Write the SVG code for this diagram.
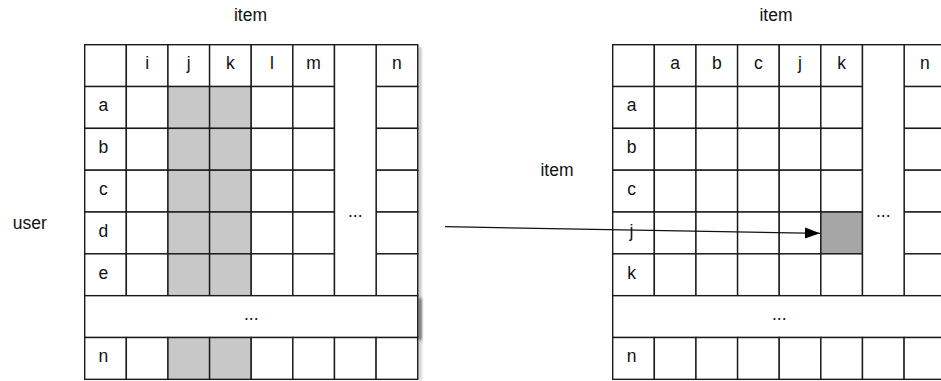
<svg xmlns="http://www.w3.org/2000/svg" width="941" height="381" viewBox="0 0 941 381">
<style>
.c{fill:#fff;stroke:#1a1a1a;stroke-width:1.4}
.s{fill:#c8c8c8;stroke:#1a1a1a;stroke-width:1.4}
.d{fill:#a6a6a6;stroke:#1a1a1a;stroke-width:1.4}
text{font-family:"Liberation Sans",Arial,sans-serif;font-size:17.5px;fill:#111;text-anchor:middle}
.lb{font-size:17.5px}
.conn{stroke:#111;stroke-width:1.3;fill:none}
</style>
<defs>
<marker id="ah" markerUnits="userSpaceOnUse" markerWidth="16" markerHeight="12" refX="15" refY="6" orient="auto">
<path d="M0,0.5 L15,6 L0,11.5 Z" fill="#000"/>
</marker>
<filter id="blur" x="-50%" y="-10%" width="200%" height="120%"><feGaussianBlur stdDeviation="1.2"/></filter>
</defs>
<rect width="941" height="381" fill="#fff"/>

<g id="labels">
<text class="lb" x="250.5" y="21">item</text>
<text class="lb" x="776" y="21">item</text>
<text class="lb" x="557" y="176">item</text>
<text class="lb" x="29.7" y="229.3">user</text>
</g>

<g id="shadow-left" filter="url(#blur)">
<rect x="418" y="47" width="3.5" height="290" fill="#c4c4c4"/>
<rect x="418" y="298" width="4" height="45" fill="#7a7a7a"/>
<rect x="418" y="340" width="3.5" height="40" fill="#d0d0d0"/>
</g>

<g id="matrix-left">
<g id="left-row-header">
<rect class="c" x="84.7" y="44.7" width="41.63" height="41.83"/>
<rect class="c" x="126.33" y="44.7" width="41.63" height="41.83"/>
<rect class="c" x="167.96" y="44.7" width="41.63" height="41.83"/>
<rect class="c" x="209.59" y="44.7" width="41.63" height="41.83"/>
<rect class="c" x="251.22" y="44.7" width="41.63" height="41.83"/>
<rect class="c" x="292.85" y="44.7" width="41.63" height="41.83"/>
<rect class="c" x="376.11" y="44.7" width="41.63" height="41.83"/>
<text x="147.15" y="69.4">i</text>
<text x="188.78" y="69.4">j</text>
<text x="230.4" y="69.4">k</text>
<text x="272.03" y="69.4">l</text>
<text x="313.66" y="69.4">m</text>
<text x="396.9" y="69.4">n</text>
</g>
<g id="left-row-a">
<rect class="c" x="84.7" y="86.53" width="41.63" height="41.83"/>
<rect class="c" x="126.33" y="86.53" width="41.63" height="41.83"/>
<rect class="s" x="167.96" y="86.53" width="41.63" height="41.83"/>
<rect class="s" x="209.59" y="86.53" width="41.63" height="41.83"/>
<rect class="c" x="251.22" y="86.53" width="41.63" height="41.83"/>
<rect class="c" x="292.85" y="86.53" width="41.63" height="41.83"/>
<rect class="c" x="376.11" y="86.53" width="41.63" height="41.83"/>
<text x="103.3" y="111.2">a</text>
</g>
<g id="left-row-b">
<rect class="c" x="84.7" y="128.36" width="41.63" height="41.83"/>
<rect class="c" x="126.33" y="128.36" width="41.63" height="41.83"/>
<rect class="s" x="167.96" y="128.36" width="41.63" height="41.83"/>
<rect class="s" x="209.59" y="128.36" width="41.63" height="41.83"/>
<rect class="c" x="251.22" y="128.36" width="41.63" height="41.83"/>
<rect class="c" x="292.85" y="128.36" width="41.63" height="41.83"/>
<rect class="c" x="376.11" y="128.36" width="41.63" height="41.83"/>
<text x="103.3" y="153.1">b</text>
</g>
<g id="left-row-c">
<rect class="c" x="84.7" y="170.19" width="41.63" height="41.83"/>
<rect class="c" x="126.33" y="170.19" width="41.63" height="41.83"/>
<rect class="s" x="167.96" y="170.19" width="41.63" height="41.83"/>
<rect class="s" x="209.59" y="170.19" width="41.63" height="41.83"/>
<rect class="c" x="251.22" y="170.19" width="41.63" height="41.83"/>
<rect class="c" x="292.85" y="170.19" width="41.63" height="41.83"/>
<rect class="c" x="376.11" y="170.19" width="41.63" height="41.83"/>
<text x="103.3" y="194.9">c</text>
</g>
<g id="left-row-d">
<rect class="c" x="84.7" y="212.02" width="41.63" height="41.83"/>
<rect class="c" x="126.33" y="212.02" width="41.63" height="41.83"/>
<rect class="s" x="167.96" y="212.02" width="41.63" height="41.83"/>
<rect class="s" x="209.59" y="212.02" width="41.63" height="41.83"/>
<rect class="c" x="251.22" y="212.02" width="41.63" height="41.83"/>
<rect class="c" x="292.85" y="212.02" width="41.63" height="41.83"/>
<rect class="c" x="376.11" y="212.02" width="41.63" height="41.83"/>
<text x="103.3" y="236.7">d</text>
</g>
<g id="left-row-e">
<rect class="c" x="84.7" y="253.85" width="41.63" height="41.83"/>
<rect class="c" x="126.33" y="253.85" width="41.63" height="41.83"/>
<rect class="s" x="167.96" y="253.85" width="41.63" height="41.83"/>
<rect class="s" x="209.59" y="253.85" width="41.63" height="41.83"/>
<rect class="c" x="251.22" y="253.85" width="41.63" height="41.83"/>
<rect class="c" x="292.85" y="253.85" width="41.63" height="41.83"/>
<rect class="c" x="376.11" y="253.85" width="41.63" height="41.83"/>
<text x="103.3" y="278.5">e</text>
</g>
<g id="left-col-more">
<rect class="c" x="334.48" y="44.7" width="41.63" height="250.98"/>
<text x="355.3" y="216.5">...</text>
</g>
<g id="left-row-more">
<rect class="c" x="84.7" y="295.68" width="333.04" height="41.83"/>
<text x="251.22" y="320.3">...</text>
</g>
<g id="left-row-n">
<rect class="c" x="84.7" y="337.51" width="41.63" height="41.83"/>
<rect class="c" x="126.33" y="337.51" width="41.63" height="41.83"/>
<rect class="s" x="167.96" y="337.51" width="41.63" height="41.83"/>
<rect class="s" x="209.59" y="337.51" width="41.63" height="41.83"/>
<rect class="c" x="251.22" y="337.51" width="41.63" height="41.83"/>
<rect class="c" x="292.85" y="337.51" width="41.63" height="41.83"/>
<rect class="c" x="334.48" y="337.51" width="41.63" height="41.83"/>
<rect class="c" x="376.11" y="337.51" width="41.63" height="41.83"/>
<text x="103.3" y="362.2">n</text>
</g>
</g>

<g id="matrix-right">
<g id="right-row-header">
<rect class="c" x="612.7" y="44.7" width="41.63" height="41.83"/>
<rect class="c" x="654.33" y="44.7" width="41.63" height="41.83"/>
<rect class="c" x="695.96" y="44.7" width="41.63" height="41.83"/>
<rect class="c" x="737.59" y="44.7" width="41.63" height="41.83"/>
<rect class="c" x="779.22" y="44.7" width="41.63" height="41.83"/>
<rect class="c" x="820.85" y="44.7" width="41.63" height="41.83"/>
<rect class="c" x="904.11" y="44.7" width="41.63" height="41.83"/>
<text x="675.15" y="69.4">a</text>
<text x="716.78" y="69.4">b</text>
<text x="758.4" y="69.4">c</text>
<text x="800.03" y="69.4">j</text>
<text x="841.66" y="69.4">k</text>
<text x="924.9" y="69.4">n</text>
</g>
<g id="right-row-a">
<rect class="c" x="612.7" y="86.53" width="41.63" height="41.83"/>
<rect class="c" x="654.33" y="86.53" width="41.63" height="41.83"/>
<rect class="c" x="695.96" y="86.53" width="41.63" height="41.83"/>
<rect class="c" x="737.59" y="86.53" width="41.63" height="41.83"/>
<rect class="c" x="779.22" y="86.53" width="41.63" height="41.83"/>
<rect class="c" x="820.85" y="86.53" width="41.63" height="41.83"/>
<rect class="c" x="904.11" y="86.53" width="41.63" height="41.83"/>
<text x="631.5" y="111.2">a</text>
</g>
<g id="right-row-b">
<rect class="c" x="612.7" y="128.36" width="41.63" height="41.83"/>
<rect class="c" x="654.33" y="128.36" width="41.63" height="41.83"/>
<rect class="c" x="695.96" y="128.36" width="41.63" height="41.83"/>
<rect class="c" x="737.59" y="128.36" width="41.63" height="41.83"/>
<rect class="c" x="779.22" y="128.36" width="41.63" height="41.83"/>
<rect class="c" x="820.85" y="128.36" width="41.63" height="41.83"/>
<rect class="c" x="904.11" y="128.36" width="41.63" height="41.83"/>
<text x="631.5" y="153.1">b</text>
</g>
<g id="right-row-c">
<rect class="c" x="612.7" y="170.19" width="41.63" height="41.83"/>
<rect class="c" x="654.33" y="170.19" width="41.63" height="41.83"/>
<rect class="c" x="695.96" y="170.19" width="41.63" height="41.83"/>
<rect class="c" x="737.59" y="170.19" width="41.63" height="41.83"/>
<rect class="c" x="779.22" y="170.19" width="41.63" height="41.83"/>
<rect class="c" x="820.85" y="170.19" width="41.63" height="41.83"/>
<rect class="c" x="904.11" y="170.19" width="41.63" height="41.83"/>
<text x="631.5" y="194.9">c</text>
</g>
<g id="right-row-j">
<rect class="c" x="612.7" y="212.02" width="41.63" height="41.83"/>
<rect class="c" x="654.33" y="212.02" width="41.63" height="41.83"/>
<rect class="c" x="695.96" y="212.02" width="41.63" height="41.83"/>
<rect class="c" x="737.59" y="212.02" width="41.63" height="41.83"/>
<rect class="c" x="779.22" y="212.02" width="41.63" height="41.83"/>
<rect class="d" x="820.85" y="212.02" width="41.63" height="41.83"/>
<rect class="c" x="904.11" y="212.02" width="41.63" height="41.83"/>
<text x="631.5" y="236.7">j</text>
</g>
<g id="right-row-k">
<rect class="c" x="612.7" y="253.85" width="41.63" height="41.83"/>
<rect class="c" x="654.33" y="253.85" width="41.63" height="41.83"/>
<rect class="c" x="695.96" y="253.85" width="41.63" height="41.83"/>
<rect class="c" x="737.59" y="253.85" width="41.63" height="41.83"/>
<rect class="c" x="779.22" y="253.85" width="41.63" height="41.83"/>
<rect class="c" x="820.85" y="253.85" width="41.63" height="41.83"/>
<rect class="c" x="904.11" y="253.85" width="41.63" height="41.83"/>
<text x="631.5" y="278.5">k</text>
</g>
<g id="right-col-more">
<rect class="c" x="862.48" y="44.7" width="41.63" height="250.98"/>
<text x="883.3" y="216.5">...</text>
</g>
<g id="right-row-more">
<rect class="c" x="612.7" y="295.68" width="333.04" height="41.83"/>
<text x="779.22" y="320.3">...</text>
</g>
<g id="right-row-n">
<rect class="c" x="612.7" y="337.51" width="41.63" height="41.83"/>
<rect class="c" x="654.33" y="337.51" width="41.63" height="41.83"/>
<rect class="c" x="695.96" y="337.51" width="41.63" height="41.83"/>
<rect class="c" x="737.59" y="337.51" width="41.63" height="41.83"/>
<rect class="c" x="779.22" y="337.51" width="41.63" height="41.83"/>
<rect class="c" x="820.85" y="337.51" width="41.63" height="41.83"/>
<rect class="c" x="862.48" y="337.51" width="41.63" height="41.83"/>
<rect class="c" x="904.11" y="337.51" width="41.63" height="41.83"/>
<text x="631.5" y="362.2">n</text>
</g>
</g>

<g id="connectors">
<line class="conn" x1="445" y1="226.7" x2="820" y2="233.3" marker-end="url(#ah)"/>
</g>
</svg>
